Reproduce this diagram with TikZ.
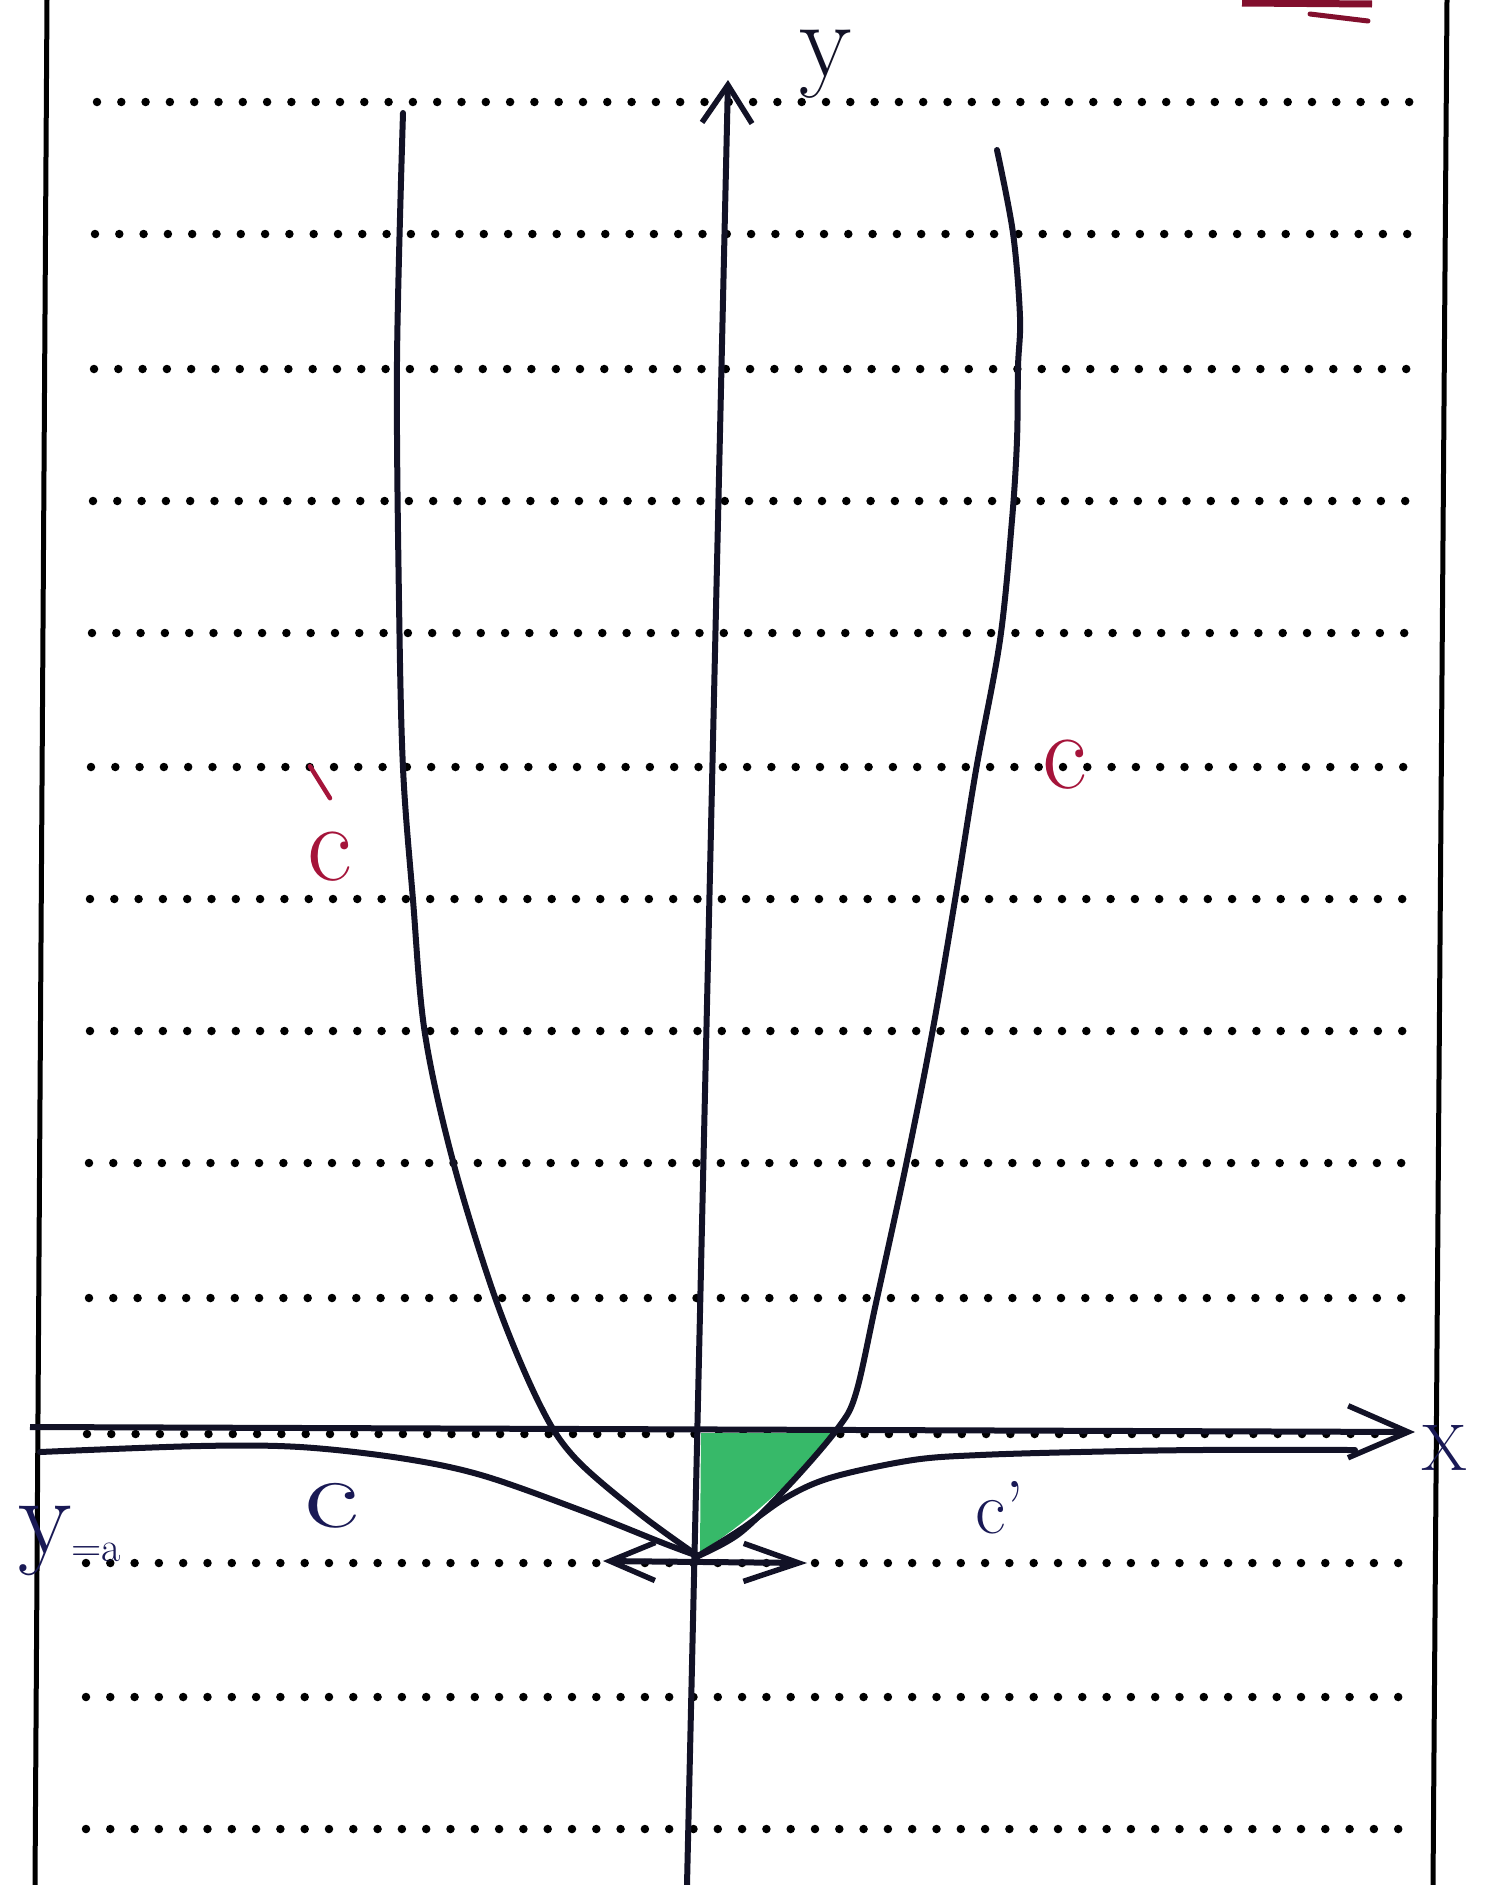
\documentclass[tikz,border=0pt]{standalone}
\usetikzlibrary{arrows.meta}
\definecolor{ink}{RGB}{18,18,38}
\definecolor{navy}{RGB}{25,25,85}
\definecolor{redink}{RGB}{165,20,58}
\definecolor{darkred}{RGB}{130,15,45}
\definecolor{greenfill}{RGB}{55,185,105}
\begin{document}
\begin{tikzpicture}[x=1pt,y=-1pt,
  ruled/.style={line width=8.5pt, line cap=round, dash pattern=on 0pt off 24.3pt, black},
  border/.style={line width=5pt, black},
  curve/.style={line width=6pt, ink, line cap=round, line join=round},
  axis/.style={line width=6pt, ink},
  lab/.style={inner sep=0pt},
  primestroke/.style={line width=4.5pt, line cap=round},
]
\fill[white] (0,0) rectangle (1490,1885);
\useasboundingbox (0,0) rectangle (1490,1885);

% ruled dotted lines (54 gaps of 24.3pt each)
\foreach \yy/\xa in {102/97, 234/95, 369/94, 501/93, 633/92, 767/91, 899/90,
  1031/90, 1163/89, 1298/89, 1563/86, 1697/86, 1829/86}
  \draw[ruled] (\xa,\yy) -- ++(1312.2,0);
\draw[ruled] (87,1434) -- ++(1287.9,0);

% page borders
\coordinate (blt) at (47,0);
\coordinate (blb) at (35,1885);
\coordinate (brt) at (1447,0);
\coordinate (brb) at (1433,1885);
\draw[border] (blt) -- (blb);
\draw[border] (brt) -- (brb);

% red marks at top right
\draw[darkred, line width=7pt] (1242,3) -- (1372,4);
\draw[darkred, line width=5pt, line cap=round] (1310,14) -- (1368,21);

% shaded region
\fill[greenfill] (701,1433) -- (835,1433) .. controls (800,1475) and (745,1525) .. (700,1552) -- cycle;

% axes
\coordinate (yb) at (687,1885);
\coordinate (yt) at (728,80);
\coordinate (xl) at (30,1427);
\coordinate (xr) at (1415,1432);
\draw[axis, -{Straight Barb[length=38pt,width=50pt,line width=5.5pt]}] (yb) -- (yt);
\draw[axis, -{Straight Barb[length=60pt,width=52pt,line width=5.5pt]}] (xl) -- (xr);

% vertex
\coordinate (vtx) at (698,1556);

% big U curve
\draw[curve] plot[smooth, tension=0.55] coordinates {(403,113) (397,361) (399,601) (403,768) (413,900) (425,1034) (454,1165) (497,1303) (540,1405) (575,1458) (640,1514) (vtx)};
\draw[curve] plot[smooth, tension=0.55] coordinates {(vtx) (740,1533) (790,1484) (838,1428) (856,1393) (876,1303) (906,1165) (932,1034) (955,900) (976,770) (1000,640) (1012,520) (1017,440) (1018,367) (1020,317) (1013,233) (997,150)};

% lower curves
\draw[curve] plot[smooth, tension=0.55] coordinates {(40,1452) (200,1446) (300,1447) (400,1458) (481,1475) (580,1510) (663,1543) (vtx)};
\draw[curve] plot[smooth, tension=0.55] coordinates {(vtx) (740,1530) (787,1497) (833,1477) (913,1460) (980,1455) (1080,1452) (1200,1450) (1355,1450)};

% double arrow at y=a
\coordinate (al) at (603,1561);
\coordinate (ar) at (807,1563);
\draw[axis, {Straight Barb[length=45pt,width=38pt,line width=5.5pt]}-{Straight Barb[length=55pt,width=38pt,line width=5.5pt]}] (al) -- (ar);

% labels
\node[lab, ink, font=\fontsize{108}{108}\selectfont] (ylab) at (826,64) {y};
\node[lab, navy, font=\fontsize{66}{66}\selectfont] (xlab) at (1444,1448) {X};
\node[lab, redink, anchor=base, font=\fontsize{110}{110}\selectfont] (cR) at (1065,788) {c};
\node[lab, redink, anchor=base, font=\fontsize{110}{110}\selectfont] (cL) at (330,880) {c};
\draw[primestroke, redink] ([shift={(-20,-65)}]cL.north) -- ([shift={(0,-33)}]cL.north);
\node[lab, navy, anchor=base, font=\fontsize{100}{100}\selectfont] (cB) at (332,1527) {\scalebox{1.35}[1]{c}};
\node[lab, navy, anchor=base, font=\fontsize{75}{75}\selectfont] (cpB) at (1000,1533) {c'};
\node[lab, navy, anchor=base west, font=\fontsize{110}{110}\selectfont] (ya) at (18,1553) {y\raisebox{-8pt}{\fontsize{42}{42}\selectfont =a}};
\end{tikzpicture}
\end{document}
